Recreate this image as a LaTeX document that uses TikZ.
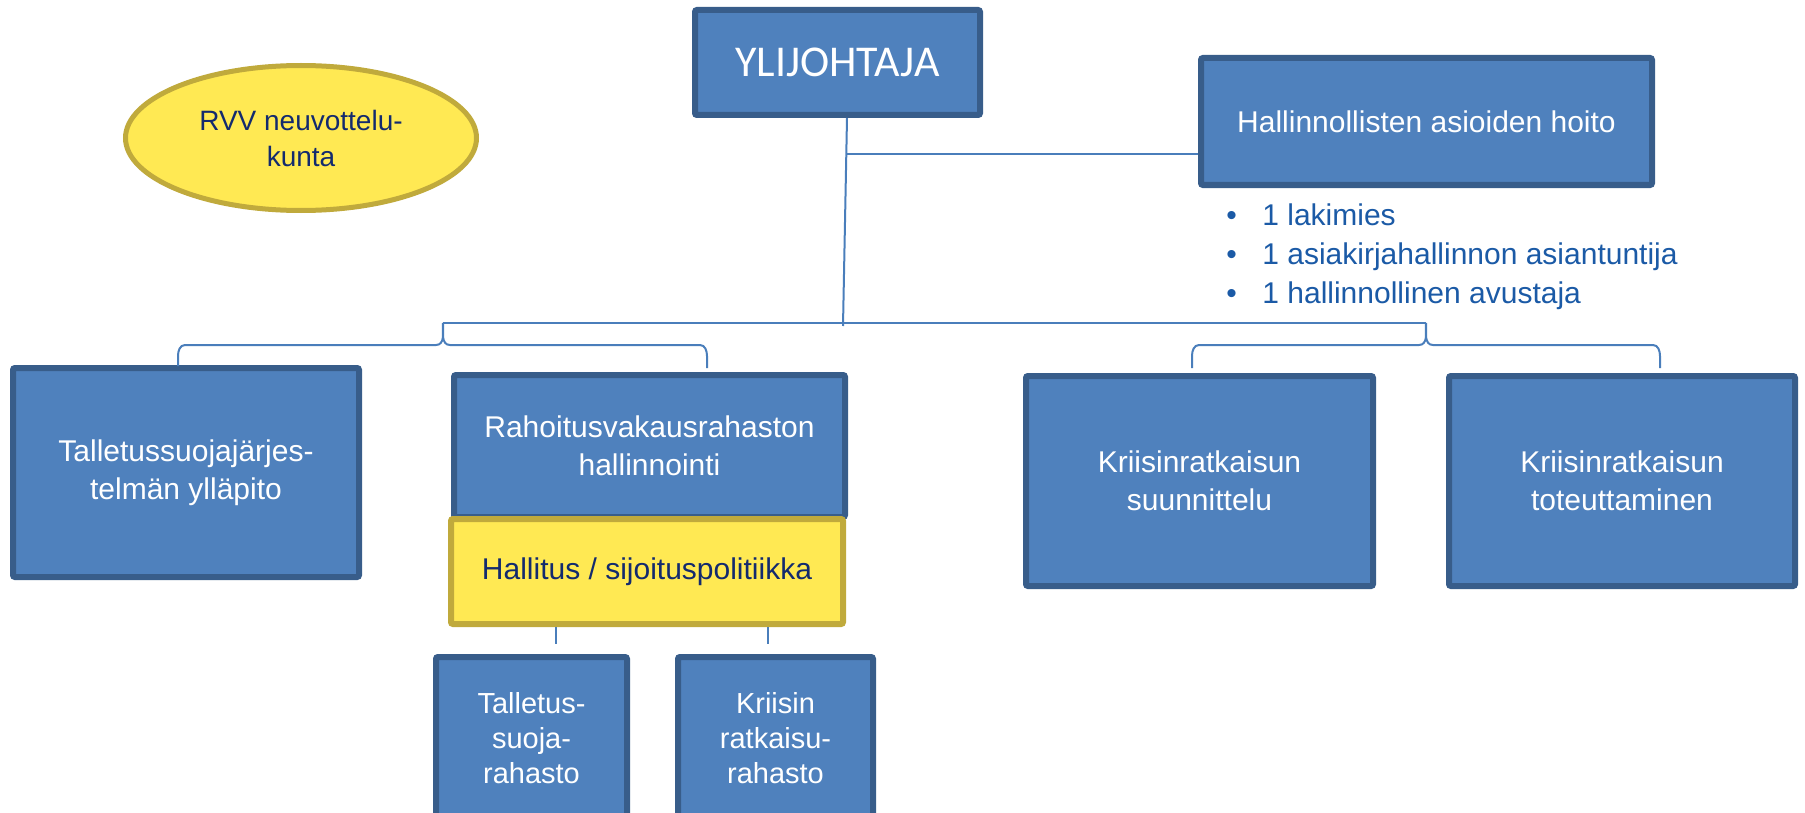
\documentclass[tikz,border=0pt]{standalone}
\usepackage{fontspec}
\setmainfont{Liberation Sans}
\newfontfamily\titlefont{Carlito}
\usetikzlibrary{calc,
  positioning,
  shapes.geometric
}
\definecolor{orgblue}{HTML}{4F81BD}
\definecolor{orgblueline}{HTML}{385D8A}
\definecolor{orgyellow}{HTML}{FFE953}
\definecolor{orgyellowline}{HTML}{C0AA3C}
\definecolor{orgnavy}{HTML}{132A6E}
\definecolor{orgtext}{HTML}{1B5AA6}
\definecolor{orgconn}{HTML}{4A7EBB}

\tikzset{
  unitbox/.style={draw=orgblueline, fill=orgblue, line width=3pt,
    rounded corners=1pt, inner sep=0pt, align=center, text=white,
    font=\fontsize{15}{19}\selectfont},
  boardbox/.style={unitbox, draw=orgyellowline, fill=orgyellow, text=orgnavy},
  conn/.style={orgconn, line width=1pt},
  staffline/.style={text=orgtext, inner sep=0pt, anchor=base west,
    font=\fontsize{15}{18}\selectfont}
}

\begin{document}
\begin{tikzpicture}[x=0.5pt, y=0.5pt]
  \useasboundingbox (0,0) rectangle (1805,-813);

  % top level
  \node[unitbox, minimum width=142.5pt, minimum height=52.5pt,
    font=\titlefont\fontsize{22}{26}\selectfont] (ylij) at (837.5,-62.5) {YLIJOHTAJA};
  \node[unitbox, minimum width=225.5pt, minimum height=63.5pt] (hallinto)
  at (1426.5,-121.5) {Hallinnollisten asioiden hoito};
  \node[ellipse, draw=orgyellowline, fill=orgyellow, line width=2.5pt,
    minimum width=175.5pt, minimum height=72.5pt, inner sep=0pt, align=center,
    text=orgnavy, font=\fontsize{14}{18}\selectfont] (rvv)
  at (301,-138) {RVV neuvottelu-\\kunta};

  \foreach \t [count=\i] in {1 lakimies, 1 asiakirjahallinnon asiantuntija,
    1 hallinnollinen avustaja}
  \node[staffline] (staff\i) at (1226,{-226-38.5*(\i-1)})
  {\makebox[18pt][l]{\textbullet}\t};

  % units
  \node[unitbox, minimum width=173pt, minimum height=104.5pt] (talsys)
  at (186,-472.5) {Talletussuojajärjes-\\telmän ylläpito};
  \node[unitbox, minimum width=195.5pt, minimum height=71pt] (rahoitus)
  at (649.5,-446) {Rahoitusvakausrahaston\\hallinnointi};
  \node[boardbox, minimum width=196pt, minimum height=52.5pt] (hallitus)
  at (647,-571.5) {Hallitus / sijoituspolitiikka};
  \node[unitbox, minimum width=173.5pt, minimum height=105pt] (suunnittelu)
  at (1199.5,-481) {Kriisinratkaisun\\suunnittelu};
  \node[unitbox, minimum width=173pt, minimum height=105pt] (toteutus)
  at (1622,-481) {Kriisinratkaisun\\toteuttaminen};

  % funds
  \node[unitbox, minimum width=95.5pt, minimum height=81pt,
    font=\fontsize{14.5}{17.5}\selectfont] (tsrahasto)
  at (531.5,-738) {Talletus-\\suoja-\\rahasto};
  \node[unitbox, minimum width=97.5pt, minimum height=81pt,
    font=\fontsize{14.5}{17.5}\selectfont] (krrahasto)
  at (775.5,-738) {Kriisin\\ratkaisu-\\rahasto};

  % connectors
  \coordinate (stemfoot) at (843,-326);
  \coordinate (hjoin) at (846,-154);
  \coordinate (cusp1) at (443,-323);
  \coordinate (cusp2) at (1426,-323);
  \coordinate (tip1) at (178,-366);
  \coordinate (tip2) at (707,-368);
  \coordinate (tip3) at (1192,-368);
  \coordinate (tip4) at (1660,-368);
  \coordinate (tstop) at ($(tsrahasto.north)+(24.5,10)$);
  \coordinate (krtop) at ($(krrahasto.north)+(-7.5,10)$);

  \draw[conn] ($(ylij.south)+(9.5,0)$) -- (stemfoot);
  \draw[conn] (hjoin) -- (hjoin -| hallinto.west);
  \draw[conn] (cusp1) -- (cusp2);

  \draw[conn] (tip1) -- ++(0,10) to[out=90,in=180] ++(7,11)
  -- ($(cusp1)+(-7,-22)$) to[out=0,in=-90] (cusp1)
  to[out=-90,in=180] ($(cusp1)+(7,-22)$)
  -- ($(tip2)+(-7,23)$) to[out=0,in=90] ++(7,-11) -- (tip2);
  \draw[conn] (tip3) -- ++(0,12) to[out=90,in=180] ++(7,11)
  -- ($(cusp2)+(-7,-22)$) to[out=0,in=-90] (cusp2)
  to[out=-90,in=180] ($(cusp2)+(7,-22)$)
  -- ($(tip4)+(-7,23)$) to[out=0,in=90] ++(7,-11) -- (tip4);

  \draw[conn] (hallitus.south -| tstop) -- (tstop);
  \draw[conn] (hallitus.south -| krtop) -- (krtop);
\end{tikzpicture}
\end{document}
